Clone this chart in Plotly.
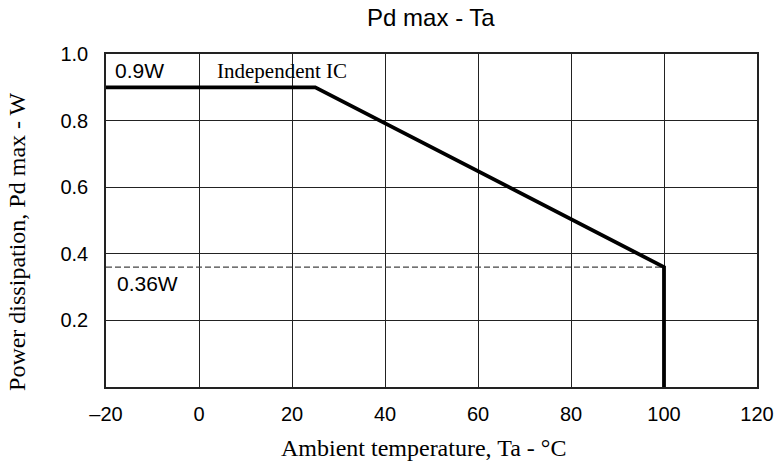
import plotly.graph_objects as go

# Data
ta = [-20, 25, 100, 100]          # ambient temperature (°C)
pd_max = [0.9, 0.9, 0.36, 0.0]    # power dissipation (W)
limit_ta = [-20, 100]
limit_pd = [0.36, 0.36]

x_ticks = [-20, 0, 20, 40, 60, 80, 100, 120]
x_ticktext = ["\u201320", "0", "20", "40", "60", "80", "100", "120"]
y_ticks = [0.2, 0.4, 0.6, 0.8, 1.0]
y_ticktext = ["0.2", "0.4", "0.6", "0.8", "1.0"]

sans = "Liberation Sans, Arial, sans-serif"
serif = "Liberation Serif, Times New Roman, serif"

labels = [
    dict(text="0.9W", x=-18.6, y=0.95, font=sans, size=21),
    dict(text="Independent IC", x=3.4, y=0.95, font=serif, size=21),
    dict(text="0.36W", x=-18.0, y=0.31, font=sans, size=21),
]

fig = go.Figure()
fig.add_trace(go.Scatter(x=limit_ta, y=limit_pd, mode="lines",
                         line=dict(color="#444444", width=1.2, dash="6px,3px"),
                         hoverinfo="skip", showlegend=False))
fig.add_trace(go.Scatter(x=ta, y=pd_max, mode="lines",
                         line=dict(color="black", width=3.8),
                         showlegend=False))

for lb in labels:
    fig.add_annotation(x=lb["x"], y=lb["y"], xref="x", yref="y", text=lb["text"],
                       showarrow=False, xanchor="left", yanchor="middle",
                       font=dict(family=lb["font"], size=lb["size"], color="black"))

# axis titles as annotations for exact placement
fig.add_annotation(x=0.487, y=-0.183, xref="paper", yref="paper",
                   text="Ambient temperature, Ta - \u00b0C", showarrow=False,
                   xanchor="center", yanchor="middle",
                   font=dict(family=serif, size=24, color="black"))
fig.add_annotation(x=-0.137, y=0.438, xref="paper", yref="paper",
                   text="Power dissipation, Pd max - W", showarrow=False,
                   textangle=-90, xanchor="center", yanchor="middle",
                   font=dict(family=serif, size=24, color="black"))

fig.update_layout(
    width=775, height=463,
    margin=dict(l=106, r=18, t=54, b=76, autoexpand=False),
    paper_bgcolor="white", plot_bgcolor="white",
    title=dict(text="Pd max - Ta", x=0.556, xanchor="center", y=0.961, yanchor="middle",
               xref="container", yref="container",
               font=dict(family=sans, size=24, color="black")),
    xaxis=dict(range=[-20, 120], tickvals=x_ticks, ticktext=x_ticktext,
               showgrid=True, gridcolor="#222222", gridwidth=1,
               showline=True, linecolor="#222222", linewidth=1.5, mirror=True,
               zeroline=False, ticks="", ticklabelstandoff=8, automargin=False,
               tickfont=dict(family=sans, size=20, color="black")),
    yaxis=dict(range=[0, 1.0], tickvals=y_ticks, ticktext=y_ticktext,
               showgrid=True, gridcolor="#222222", gridwidth=1,
               showline=True, linecolor="#222222", linewidth=1.5, mirror=True,
               zeroline=False, ticks="", ticklabelstandoff=12, automargin=False,
               tickfont=dict(family=sans, size=20, color="black")),
)

fig.write_html(
    "out.html",
    config={"displayModeBar": False},
    post_script="document.body.style.margin='0';document.body.style.overflow='hidden';",
)
